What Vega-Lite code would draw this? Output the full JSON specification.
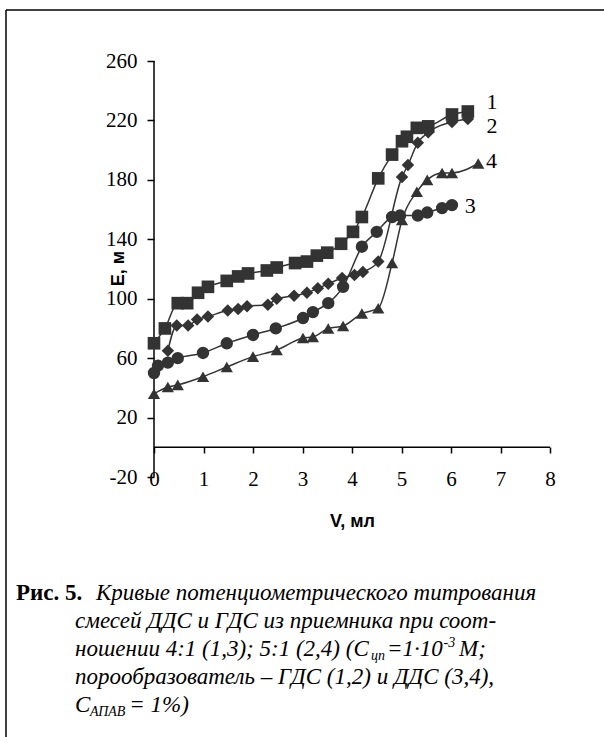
{
  "$schema": "https://vega.github.io/schema/vega-lite/v6.json",
  "width": 598,
  "height": 727,
  "autosize": "none",
  "padding": {"left": 6, "top": 10, "right": 0, "bottom": 0},
  "background": "white",
  "config": {"view": {"stroke": null}},
  "datasets": {
    "axes": [
      {"a":"x","V":0,"E":0},{"a":"x","V":8,"E":0},
      {"a":"y","V":0,"E":-20},{"a":"y","V":0,"E":260},
      {"a":"frameLeft","V":-2.9899,"E":-195},{"a":"frameLeft","V":-2.9899,"E":294.327},
      {"a":"frameTop","V":-2.9899,"E":294.327},{"a":"frameTop","V":9.0909,"E":294.327}
    ],
    "curves": [
      {"s":"1","V":0,"E":70},{"s":"1","V":0.22,"E":80},{"s":"1","V":0.48,"E":97},{"s":"1","V":0.67,"E":97},{"s":"1","V":0.89,"E":104},{"s":"1","V":1.09,"E":108},{"s":"1","V":1.47,"E":112},{"s":"1","V":1.7,"E":115},{"s":"1","V":1.9,"E":117},{"s":"1","V":2.28,"E":119},{"s":"1","V":2.48,"E":121},{"s":"1","V":2.85,"E":124},{"s":"1","V":3.09,"E":125},{"s":"1","V":3.29,"E":129},{"s":"1","V":3.5,"E":131},{"s":"1","V":3.78,"E":137},{"s":"1","V":4.02,"E":145},{"s":"1","V":4.2,"E":155},{"s":"1","V":4.53,"E":181},{"s":"1","V":4.81,"E":197},{"s":"1","V":5.01,"E":206},{"s":"1","V":5.11,"E":209},{"s":"1","V":5.31,"E":215},{"s":"1","V":5.54,"E":216},{"s":"1","V":6.02,"E":224},{"s":"1","V":6.34,"E":226},
      {"s":"2","V":0.28,"E":65},{"s":"2","V":0.46,"E":82},{"s":"2","V":0.69,"E":82},{"s":"2","V":0.87,"E":86},{"s":"2","V":1.09,"E":88},{"s":"2","V":1.49,"E":92},{"s":"2","V":1.7,"E":93},{"s":"2","V":1.88,"E":95},{"s":"2","V":2.3,"E":96},{"s":"2","V":2.48,"E":100},{"s":"2","V":2.83,"E":102},{"s":"2","V":3.09,"E":104},{"s":"2","V":3.31,"E":107},{"s":"2","V":3.52,"E":110},{"s":"2","V":3.8,"E":114},{"s":"2","V":4.05,"E":116},{"s":"2","V":4.22,"E":118},{"s":"2","V":4.53,"E":125},{"s":"2","V":5.01,"E":182},{"s":"2","V":5.13,"E":190},{"s":"2","V":5.33,"E":205},{"s":"2","V":5.54,"E":212},{"s":"2","V":6.02,"E":219},{"s":"2","V":6.34,"E":221},
      {"s":"3","V":0,"E":50},{"s":"3","V":0.08,"E":55},{"s":"3","V":0.28,"E":57},{"s":"3","V":0.48,"E":60},{"s":"3","V":0.99,"E":63.5},{"s":"3","V":1.47,"E":70},{"s":"3","V":2.0,"E":75.6},{"s":"3","V":2.46,"E":80},{"s":"3","V":3.01,"E":87},{"s":"3","V":3.21,"E":91},{"s":"3","V":3.52,"E":97},{"s":"3","V":3.82,"E":108},{"s":"3","V":4.2,"E":135},{"s":"3","V":4.5,"E":145},{"s":"3","V":4.81,"E":155},{"s":"3","V":4.97,"E":156},{"s":"3","V":5.33,"E":156},{"s":"3","V":5.52,"E":158},{"s":"3","V":5.82,"E":161},{"s":"3","V":6.02,"E":163},
      {"s":"4","V":0,"E":36},{"s":"4","V":0.28,"E":40.6},{"s":"4","V":0.48,"E":42},{"s":"4","V":0.99,"E":47.5},{"s":"4","V":1.47,"E":54},{"s":"4","V":2.0,"E":61},{"s":"4","V":2.48,"E":65.5},{"s":"4","V":3.01,"E":73.6},{"s":"4","V":3.21,"E":74.3},{"s":"4","V":3.52,"E":80},{"s":"4","V":3.82,"E":81.6},{"s":"4","V":4.2,"E":90},{"s":"4","V":4.53,"E":93.6},{"s":"4","V":4.81,"E":124},{"s":"4","V":5.01,"E":153},{"s":"4","V":5.31,"E":172},{"s":"4","V":5.52,"E":180},{"s":"4","V":5.82,"E":184.6},{"s":"4","V":6.02,"E":184.6},{"s":"4","V":6.55,"E":191}
    ],
    "labels": [
      {"t":"1","V":6.83,"E":232.5},{"t":"2","V":6.83,"E":216},{"t":"4","V":6.82,"E":192.4},{"t":"3","V":6.39,"E":162.1}
    ],
    "capBold": [{"t":"Рис. 5.","V":-2.788,"E":-102.8}],
    "capMain": [
      {"t":"Кривые потенциометрического титрования","V":-1.172,"E":-102.8},
      {"t":"смесей ДДС и ГДС из приемника при соот-","V":-1.596,"E":-121.6},
      {"t":"ношении 4:1 (1,3); 5:1 (2,4) (C","V":-1.596,"E":-140.5},
      {"t":"=1·10","V":4.707,"E":-140.5},
      {"t":"М;","V":6.162,"E":-140.5},
      {"t":"порообразователь – ГДС (1,2) и ДДС (3,4),","V":-1.596,"E":-159.3},
      {"t":"C","V":-1.596,"E":-178.2},
      {"t":"= 1%)","V":-0.5,"E":-178.2}
    ],
    "capSub": [
      {"t":"цп","V":4.384,"E":-143.2},
      {"t":"АПАВ","V":-1.293,"E":-180.9}
    ],
    "capSup": [
      {"t":"-3","V":5.848,"E":-134.4}
    ]
  },
  "encoding": {
    "x": {"field": "V", "type": "quantitative", "scale": {"domain": [-2.9899, 9.0909], "nice": false, "zero": false},
      "axis": {"orient": "bottom", "offset": -290, "values": [0,1,2,3,4,5,6,7,8], "domain": false, "grid": false,
        "tickSize": 6, "tickWidth": 1.5, "tickColor": "black", "labelFont": "Liberation Serif", "labelFontSize": 21,
        "labelColor": "black", "labelPadding": 32, "labelBaseline": "alphabetic", "labelFlush": false, "labelOverlap": false,
        "title": "V, мл", "titleFont": "Liberation Sans", "titleFontWeight": "bold", "titleFontSize": 18, "titleColor": "black",
        "titleX": 346, "titleY": 79, "titleAlign": "center", "titleBaseline": "alphabetic"}},
    "y": {"field": "E", "type": "quantitative", "scale": {"domain": [-195, 294.327], "nice": false, "zero": false},
      "axis": {"orient": "left", "offset": -148, "values": [-20,20,60,100,140,180,220,260], "domain": false, "grid": false,
        "tickSize": 7, "tickWidth": 1.5, "tickColor": "black", "labelFont": "Liberation Serif", "labelFontSize": 21,
        "labelColor": "black", "labelPadding": 10, "labelExpr": "'' + datum.value", "labelFlush": false, "labelOverlap": false,
        "title": "E, м", "titleFont": "Liberation Sans", "titleFontWeight": "bold", "titleFontSize": 18, "titleColor": "black",
        "titleX": -36, "titleY": 258, "titleAngle": -90, "titleAlign": "center", "titleBaseline": "middle"}}
  },
  "layer": [
    {
      "data": {"name": "axes"},
      "mark": {"type": "line", "strokeWidth": 1.5, "color": "black", "interpolate": "linear"},
      "encoding": {"detail": {"field": "a", "type": "nominal"}}
    },
    {
      "data": {"name": "curves"},
      "mark": {"type": "line", "interpolate": "monotone", "strokeWidth": 1.5, "color": "#333333"},
      "encoding": {"detail": {"field": "s", "type": "nominal"}}
    },
    {
      "data": {"name": "curves"},
      "mark": {"type": "point", "filled": true, "opacity": 1, "color": "#333333", "strokeWidth": 0},
      "encoding": {
        "shape": {"field": "s", "type": "nominal", "scale": {"domain": ["1","2","3","4"], "range": ["square","diamond","circle","triangle-up"]}, "legend": null},
        "size": {"field": "s", "type": "nominal", "scale": {"domain": ["1","2","3","4"], "range": [160, 150, 170, 220]}, "legend": null}
      }
    },
    {
      "data": {"name": "labels"},
      "mark": {"type": "text", "font": "Liberation Serif", "fontSize": 22, "color": "black", "align": "center", "baseline": "middle"},
      "encoding": {"text": {"field": "t"}}
    },
    {
      "data": {"name": "capBold"},
      "mark": {"type": "text", "font": "Liberation Serif", "fontWeight": "bold", "fontSize": 23, "color": "black", "align": "left", "baseline": "alphabetic"},
      "encoding": {"text": {"field": "t"}}
    },
    {
      "data": {"name": "capMain"},
      "mark": {"type": "text", "font": "Liberation Serif", "fontStyle": "italic", "fontSize": 23, "color": "black", "align": "left", "baseline": "alphabetic"},
      "encoding": {"text": {"field": "t"}}
    },
    {
      "data": {"name": "capSub"},
      "mark": {"type": "text", "font": "Liberation Serif", "fontStyle": "italic", "fontSize": 14, "color": "black", "align": "left", "baseline": "alphabetic"},
      "encoding": {"text": {"field": "t"}}
    },
    {
      "data": {"name": "capSup"},
      "mark": {"type": "text", "font": "Liberation Serif", "fontStyle": "italic", "fontSize": 14, "color": "black", "align": "left", "baseline": "alphabetic"},
      "encoding": {"text": {"field": "t"}}
    }
  ]
}
